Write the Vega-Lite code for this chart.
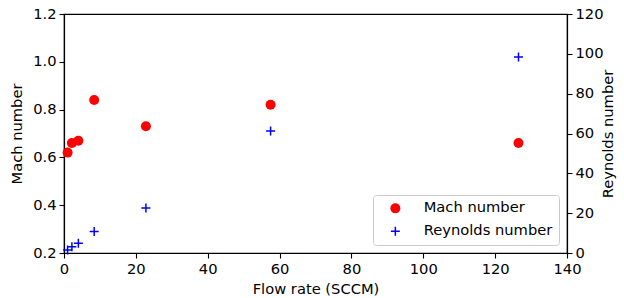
{
  "$schema": "https://vega.github.io/schema/vega-lite/v6.json",
  "width": 503,
  "height": 239,
  "autosize": {"type": "none"},
  "padding": {"left": 64, "top": 14, "right": 57, "bottom": 45},
  "background": "white",
  "config": {
    "font": "DejaVu Sans",
    "view": {"stroke": "black", "strokeWidth": 1.2},
    "axis": {
      "grid": false,
      "domainColor": "black",
      "domainWidth": 1.2,
      "tickColor": "black",
      "tickWidth": 1.1,
      "tickSize": 5,
      "labelColor": "black",
      "titleColor": "black",
      "labelFontSize": 14.7,
      "titleFontSize": 14.7,
      "titleFontWeight": "normal",
      "labelPadding": 3,
      "labelFlush": false,
      "labelOverlap": false
    },
    "legend": {
      "labelFontSize": 14.7,
      "labelColor": "black",
      "strokeColor": "#cccccc",
      "fillColor": "rgba(255,255,255,0.8)",
      "cornerRadius": 3,
      "padding": 6,
      "rowPadding": 7,
      "symbolOffset": 9,
      "labelOffset": 21,
      "symbolSize": 100,
      "symbolOpacity": 1,
      "symbolStrokeWidth": 0
    }
  },
  "data": {
    "values": [
      {"flow": 1.0, "mach": 0.62, "re": 1.5},
      {"flow": 2.2, "mach": 0.66, "re": 3.2},
      {"flow": 4.0, "mach": 0.67, "re": 4.9},
      {"flow": 8.4, "mach": 0.84, "re": 10.8},
      {"flow": 22.8, "mach": 0.73, "re": 22.6},
      {"flow": 57.5, "mach": 0.82, "re": 61.2},
      {"flow": 126.5, "mach": 0.66, "re": 98.4}
    ]
  },
  "layer": [
    {
      "mark": {"type": "point", "filled": true, "opacity": 1, "size": 100, "strokeWidth": 0},
      "encoding": {
        "x": {
          "field": "flow", "type": "quantitative",
          "scale": {"domain": [0, 140], "nice": false, "zero": false},
          "axis": {"values": [0, 20, 40, 60, 80, 100, 120, 140], "title": "Flow rate (SCCM)", "titlePadding": 6}
        },
        "y": {
          "field": "mach", "type": "quantitative",
          "scale": {"domain": [0.2, 1.2], "nice": false, "zero": false},
          "axis": {"values": [0.2, 0.4, 0.6, 0.8, 1.0, 1.2], "format": ".1f", "title": "Mach number", "titlePadding": 8}
        },
        "color": {
          "datum": "Mach number", "type": "nominal",
          "scale": {"domain": ["Mach number", "Reynolds number"], "range": ["red", "blue"]},
          "legend": {"title": null, "orient": "bottom-right", "offset": 8}
        },
        "shape": {
          "datum": "Mach number", "type": "nominal",
          "scale": {"domain": ["Mach number", "Reynolds number"], "range": ["circle", "M-0.9,-0.15H-0.15V-0.9H0.15V-0.15H0.9V0.15H0.15V0.9H-0.15V0.15H-0.9Z"]},
          "legend": {"title": null, "orient": "bottom-right", "offset": 8}
        }
      }
    },
    {
      "mark": {"type": "point", "filled": true, "opacity": 1, "size": 100, "strokeWidth": 0},
      "encoding": {
        "x": {"field": "flow", "type": "quantitative"},
        "y": {
          "field": "re", "type": "quantitative",
          "scale": {"domain": [0, 120], "nice": false, "zero": false},
          "axis": {"orient": "right", "values": [0, 20, 40, 60, 80, 100, 120], "title": "Reynolds number", "titleAngle": 270, "titlePadding": 12}
        },
        "color": {"datum": "Reynolds number", "type": "nominal"},
        "shape": {"datum": "Reynolds number", "type": "nominal"}
      }
    }
  ],
  "resolve": {"scale": {"y": "independent"}}
}
